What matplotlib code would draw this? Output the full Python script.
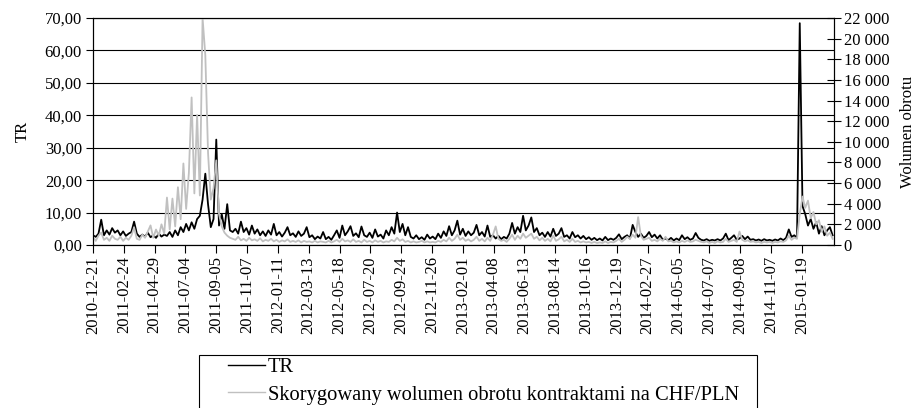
import numpy as np
import matplotlib
matplotlib.use('Agg')
import matplotlib.pyplot as plt
from matplotlib.ticker import FuncFormatter, MultipleLocator
from matplotlib.patches import Rectangle
from matplotlib.lines import Line2D

plt.rcParams['font.family'] = ['Liberation Serif', 'DejaVu Serif']
plt.rcParams['font.size'] = 12

# one value every 4 sessions
step = 4

# TR
tr_2011 = [3.0, 2.5, 3.5, 7.8, 3.0, 4.5, 3.2, 5.2, 3.8, 4.5, 3.0, 4.2, 2.8, 3.5, 4.0, 7.2,
           3.5, 2.5, 3.2, 2.6, 3.8, 2.4, 3.0, 2.2, 3.5, 2.6, 3.2, 2.8, 4.0, 2.5, 4.5, 3.0,
           5.5, 4.0, 6.5, 4.5, 7.0, 5.0, 8.0, 9.0, 14.0, 22.0, 12.5, 5.5, 8.0, 32.5, 6.0,
           9.5, 5.0, 12.6, 4.5, 4.0, 5.0, 3.5, 7.2, 4.0, 5.2, 3.2, 6.0, 3.5, 4.8, 3.0, 4.2,
           2.8, 4.5, 3.2, 6.5, 3.0]
tr_2012 = [4.0, 2.6, 3.8, 5.5, 3.0, 3.6, 2.5, 4.2, 2.8, 3.5, 5.5, 2.4, 3.0, 1.8, 2.6, 2.0,
           4.0, 1.8, 2.5, 1.6, 3.0, 4.5, 2.2, 6.0, 3.0, 4.2, 5.8, 2.8, 3.6, 2.4, 5.7, 3.0,
           2.5, 3.8, 2.2, 4.8, 2.6, 3.2, 2.0, 4.5, 3.0, 5.5, 3.5, 10.0, 4.0, 6.5, 3.0, 5.5,
           2.5, 2.0, 3.0, 1.8, 2.4, 1.6, 3.2, 2.0, 2.6, 1.8, 3.5, 2.2, 4.2, 2.8, 5.8]
tr_2013 = [3.0, 4.5, 7.5, 3.2, 5.0, 2.8, 4.2, 3.0, 3.8, 6.2, 3.0, 4.0, 2.6, 6.0, 2.5, 3.0,
           2.0, 2.8, 1.8, 2.5, 2.0, 3.5, 6.8, 3.5, 5.5, 4.0, 9.0, 4.5, 6.0, 8.5, 4.0, 5.2,
           3.0, 3.8, 2.5, 4.0, 2.6, 5.0, 2.8, 3.5, 5.2, 2.5, 3.0, 2.0, 4.0, 2.4, 3.0, 2.0,
           2.8, 1.8, 2.4, 1.6, 2.2, 1.5, 2.0, 1.4, 2.5, 1.5, 2.0, 1.6, 2.2, 3.3]
tr_2014 = [1.8, 2.5, 3.0, 2.0, 6.2, 4.0, 2.5, 3.5, 2.2, 2.8, 4.0, 2.4, 3.2, 2.0, 3.0, 1.6,
           2.0, 1.5, 2.2, 1.4, 2.0, 1.5, 3.0, 1.8, 2.4, 1.6, 2.0, 3.7, 2.2, 1.6, 1.4, 1.8,
           1.3, 1.6, 1.4, 1.8, 1.4, 2.0, 3.5, 1.5, 2.2, 3.0, 1.6, 2.0, 2.8, 1.8, 2.6, 1.6,
           1.8, 1.4, 1.7, 1.3, 1.8, 1.4, 1.6, 1.3, 1.7, 1.4, 2.0, 1.5, 2.2, 4.8]
tr_2015 = [2.5, 3.0, 2.2, 68.4, 12.0, 9.5, 6.0, 8.0, 5.0, 7.0, 3.5, 5.8, 3.0, 4.5, 5.5, 3.0]

# Skorygowany wolumen obrotu
vol_2011 = [800, 400, 900, 1200, 500, 700, 400, 900, 600, 500, 800, 400, 700, 500, 900, 1700,
            600, 500, 1000, 700, 1300, 1900, 700, 1500, 900, 2000, 1100, 4600, 1500, 4500,
            1800, 5600, 2500, 7900, 3500, 7000, 14300, 5000, 12600, 4800, 22000, 18400,
            8900, 4400, 5500, 8200, 3000, 1800, 1200, 900, 700, 600, 500, 800, 450, 600,
            400, 700, 450, 550, 400, 650, 350, 500, 400, 600, 350, 500]
vol_2012 = [300, 450, 350, 550, 300, 400, 300, 450, 250, 400, 300, 350, 250, 400, 250, 350,
            300, 250, 400, 250, 350, 500, 300, 600, 350, 450, 300, 550, 300, 400, 250, 500,
            300, 400, 250, 450, 300, 400, 250, 350, 300, 500, 350, 700, 400, 550, 300, 400,
            250, 350, 250, 300, 400, 250, 350, 250, 300, 250, 400, 300, 500, 350, 700]
vol_2013 = [400, 600, 1000, 500, 700, 400, 550, 350, 500, 800, 400, 600, 350, 700, 400, 1000,
            1800, 600, 400, 500, 300, 600, 1000, 500, 900, 600, 1100, 700, 900, 1100, 600,
            800, 450, 700, 400, 600, 350, 900, 400, 550, 800, 350, 500, 300, 600, 300, 400,
            250, 350, 250, 300, 200, 300, 200, 250, 200, 350, 200, 300, 250, 400, 600]
vol_2014 = [300, 500, 800, 600, 1000, 700, 2700, 900, 500, 600, 700, 400, 500, 350, 600, 400,
            800, 350, 400, 250, 350, 250, 400, 300, 450, 300, 350, 500, 400, 300, 250, 350,
            200, 300, 200, 350, 250, 300, 600, 300, 400, 500, 300, 1300, 500, 350, 450, 300,
            350, 250, 300, 200, 300, 250, 300, 200, 300, 250, 350, 300, 450, 900]
vol_2015 = [500, 700, 600, 3000, 4700, 3600, 4300, 2600, 3200, 2000, 2400, 1300, 1800, 900,
            1200, 600]

tick_labels = ['2010-12-21', '2011-02-24', '2011-04-29', '2011-07-04', '2011-09-05',
               '2011-11-07', '2012-01-11', '2012-03-13', '2012-05-18', '2012-07-20',
               '2012-09-24', '2012-11-26', '2013-02-01', '2013-04-08', '2013-06-13',
               '2013-08-14', '2013-10-16', '2013-12-19', '2014-02-27', '2014-05-05',
               '2014-07-07', '2014-09-08', '2014-11-07', '2015-01-19']
tick_every = 45

tr = np.array(tr_2011 + tr_2012 + tr_2013 + tr_2014 + tr_2015)
vol = np.array(vol_2011 + vol_2012 + vol_2013 + vol_2014 + vol_2015)
x_tr = np.arange(len(tr)) * step
x_vol = np.arange(len(vol)) * step

fig = plt.figure(figsize=(9.21, 4.08), dpi=100)
ax = fig.add_axes([93/921, 1 - 245/408, (834 - 93)/921, (245 - 18)/408])
ax2 = ax.twinx()

ax.plot(x_tr, tr, color='black', lw=1.3)
ax2.plot(x_vol, vol, color='#c0c0c0', lw=1.3)

ax.set_xlim(0, 1082)
ax.set_ylim(0, 70)
ax2.set_ylim(0, 22000)

ax.yaxis.set_major_locator(MultipleLocator(10))
ax.yaxis.set_major_formatter(FuncFormatter(lambda v, p: f'{v:.2f}'.replace('.', ',')))
ax2.yaxis.set_major_locator(MultipleLocator(2000))
ax2.yaxis.set_major_formatter(FuncFormatter(lambda v, p: f'{int(v):,}'.replace(',', ' ')))

ax.set_xticks(np.arange(len(tick_labels)) * tick_every)
ax.set_xticklabels(tick_labels, rotation=90)

ax.grid(axis='y', color='black', lw=0.8)
ax.set_axisbelow(True)
ax.tick_params(axis='y', direction='out', length=5, width=0.8, pad=3)
ax.tick_params(axis='x', direction='out', length=6, width=0.8, pad=2)
ax2.tick_params(axis='y', direction='inout', length=10, width=0.8, pad=2)
for a in (ax, ax2):
    for s in a.spines.values():
        s.set_linewidth(0.8)

ax.set_ylabel('TR', labelpad=10)
ax2.set_ylabel('Wolumen obrotu', labelpad=8)

handles = [Line2D([], [], color='black', lw=1.0),
           Line2D([], [], color='#c0c0c0', lw=1.0)]
fig.legend(handles, ['TR', 'Skorygowany wolumen obrotu kontraktami na CHF/PLN'],
           loc='upper left', bbox_to_anchor=(228/921, 1 - 358/408), frameon=False,
           fontsize=14.8, borderpad=0, borderaxespad=0, handlelength=1.8,
           handletextpad=0.15, labelspacing=0.38)
fig.patches.append(Rectangle((199/921, -0.02), (757 - 199)/921, (408 - 355)/408 + 0.02,
                             transform=fig.transFigure, fill=False, ec='black', lw=0.8))

fig.savefig('out.png', dpi=100)
